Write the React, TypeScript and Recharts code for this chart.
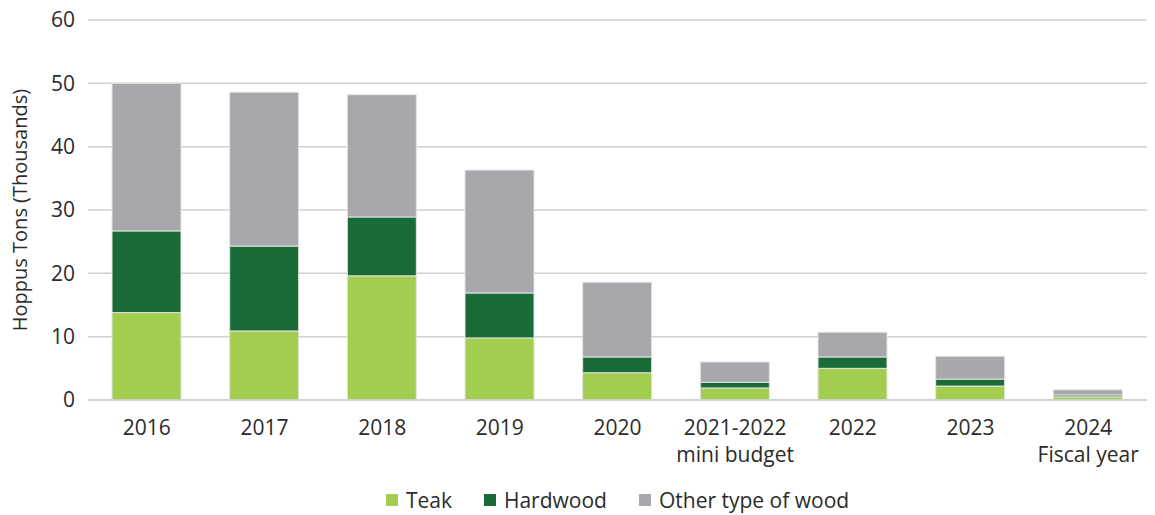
import { BarChart, Bar, XAxis, YAxis, CartesianGrid, Legend } from "recharts";

const categories = [
  "2016",
  "2017",
  "2018",
  "2019",
  "2020",
  "2021-2022\nmini budget",
  "2022",
  "2023",
  "2024\nFiscal year",
];
const teak = [13.8, 10.9, 19.6, 9.8, 4.3, 1.9, 5.0, 2.2, 0.5];
const hardwood = [12.9, 13.4, 9.3, 7.1, 2.5, 0.9, 1.8, 1.1, 0.3];
const otherWood = [23.3, 24.3, 19.3, 19.4, 11.8, 3.2, 3.9, 3.6, 0.8];
const yTicks = [0, 10, 20, 30, 40, 50, 60];

const seriesNames = ["Teak", "Hardwood", "Other type of wood"];
const seriesColors = ["#a2cd4e", "#196c37", "#a7a8ab"];

const data = categories.map((c, i) => ({
  name: c,
  Teak: teak[i],
  Hardwood: hardwood[i],
  Other: otherWood[i],
}));

const font = "'Open Sans', sans-serif";
const textColor = "#2b2b2b";

function CategoryTick(props: any) {
  const { x, y, payload } = props;
  const lines = String(payload.value).split("\n");
  return (
    <text x={x} y={y} textAnchor="middle" fill={textColor} fontSize={21} fontFamily={font}>
      {lines.map((l: string, i: number) => (
        <tspan key={i} x={x} dy={27}>
          {l}
        </tspan>
      ))}
    </text>
  );
}

function LegendContent() {
  return (
    <div
      style={{
        display: "flex",
        justifyContent: "center",
        fontFamily: font,
        fontSize: 21,
        color: textColor,
        paddingLeft: 80,
      }}
    >
      {seriesNames.map((n, i) => (
        <div key={n} style={{ display: "flex", alignItems: "center", marginRight: i < 2 ? 32 : 0 }}>
          <span
            style={{
              display: "inline-block",
              width: 12,
              height: 12,
              background: seriesColors[i],
              marginRight: 8,
            }}
          />
          <span>{n}</span>
        </div>
      ))}
    </div>
  );
}

export default function App() {
  return (
    <div style={{ position: "absolute", left: 0, top: 0, background: "#fff" }}>
      <BarChart
        width={1155}
        height={515}
        data={data}
        margin={{ top: 20, right: 8, left: 0, bottom: 0 }}
      >
        <CartesianGrid vertical={false} stroke="#cfd0d2" strokeWidth={1.5} />
        <XAxis
          dataKey="name"
          height={70}
          interval={0}
          tickLine={false}
          axisLine={{ stroke: "#cfd0d2", strokeWidth: 1.5 }}
          tick={<CategoryTick />}
        />
        <YAxis
          width={88}
          domain={[0, 60]}
          ticks={yTicks}
          axisLine={false}
          tickLine={false}
          tickMargin={7}
          tick={{ fontSize: 21, fill: textColor, fontFamily: font }}
          label={{
            value: "Hoppus Tons (Thousands)",
            angle: -90,
            position: "insideLeft",
            offset: 20,
            style: { textAnchor: "middle", fontSize: 20, fill: textColor, fontFamily: font },
          }}
        />
        <Legend
          verticalAlign="bottom"
          height={45}
          content={<LegendContent />}
          wrapperStyle={{ top: 486, left: 0, width: 1155 }}
        />
        <Bar dataKey="Teak" stackId="a" fill={seriesColors[0]} stroke="#e3e3e3" strokeWidth={1} barSize={69} isAnimationActive={false} />
        <Bar dataKey="Hardwood" stackId="a" fill={seriesColors[1]} stroke="#e3e3e3" strokeWidth={1} barSize={69} isAnimationActive={false} />
        <Bar dataKey="Other" stackId="a" fill={seriesColors[2]} stroke="#e3e3e3" strokeWidth={1} barSize={69} isAnimationActive={false} />
      </BarChart>
    </div>
  );
}
